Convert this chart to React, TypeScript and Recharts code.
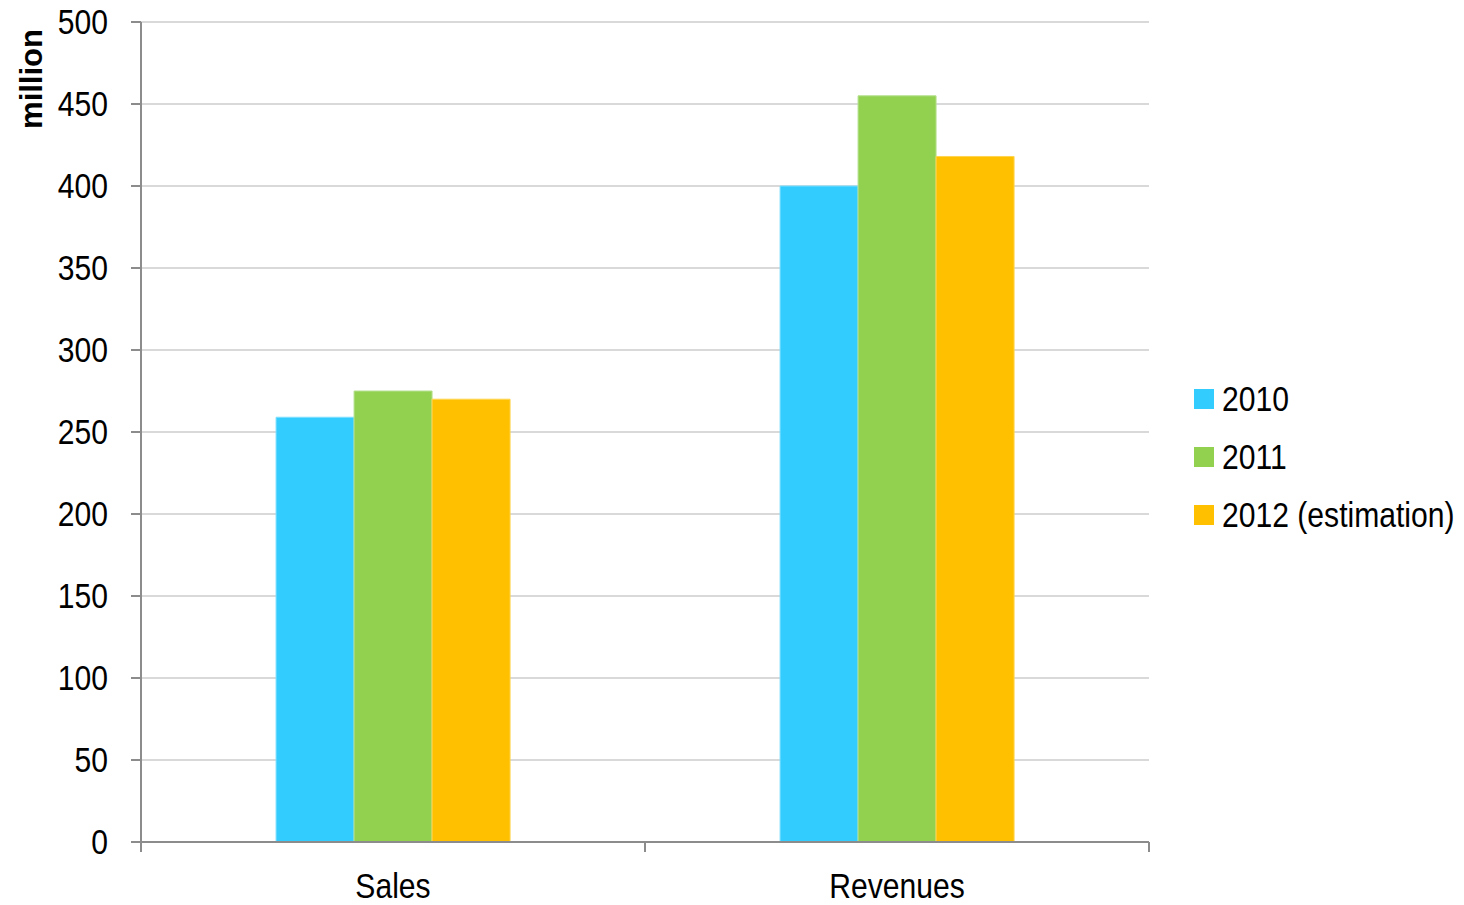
import { Bar, BarChart, CartesianGrid, Legend, XAxis, YAxis } from "recharts"

const categories = ["Sales", "Revenues"]
const series2010 = [259, 400]
const series2011 = [275, 455]
const series2012 = [270, 418]
const yTicks = [0, 50, 100, 150, 200, 250, 300, 350, 400, 450, 500]
const seriesNames = ["2010", "2011", "2012 (estimation)"]
const seriesColors = ["#33CCFF", "#92D050", "#FFC000"]
const boundaryTicks = [0, 1, 2]

const data = categories.map((name, i) => ({
  name,
  pos: i + 0.5,
  y2010: series2010[i],
  y2011: series2011[i],
  y2012: series2012[i],
}))

const FONT = "'Liberation Sans', Arial, sans-serif"
const NARROW = 0.86

function YTick(props: any) {
  const { x, y, payload } = props
  return (
    <text transform={`translate(${x},${y}) scale(${NARROW},1)`} textAnchor="end" dy="0.355em"
      fontFamily={FONT} fontSize={35} fill="#000">
      {payload.value}
    </text>
  )
}

function XTick(props: any) {
  const { x, y, payload } = props
  return (
    <text transform={`translate(${x},${y}) scale(${NARROW},1)`} textAnchor="middle" dy="0.71em"
      fontFamily={FONT} fontSize={35} fill="#000">
      {payload.value}
    </text>
  )
}

function LegendBox() {
  return (
    <div style={{ paddingLeft: 45, paddingTop: 9, fontFamily: FONT }}>
      {seriesNames.map((n, i) => (
        <div key={n} style={{ display: "flex", alignItems: "center", height: 58, whiteSpace: "nowrap" }}>
          <span style={{ width: 20, height: 20, flexShrink: 0, background: seriesColors[i], marginRight: 8, display: "inline-block" }} />
          <span style={{ fontSize: 35, color: "#000", display: "inline-block", transform: `scaleX(${NARROW})`, transformOrigin: "left center" }}>{n}</span>
        </div>
      ))}
    </div>
  )
}

function UnitLabel(props: any) {
  const vb = props.viewBox || {}
  const x = 31
  const y = (vb.y ?? 22) + 57
  return (
    <text x={x} y={y} transform={`rotate(-90, ${x}, ${y})`} textAnchor="middle" dominantBaseline="central"
      fontFamily={FONT} fontWeight="bold" fontSize={31} fill="#000">
      million
    </text>
  )
}

export default function App() {
  return (
    <div style={{ position: "absolute", left: 0, top: 0, width: 1464, height: 905, background: "#fff" }}>
      <BarChart
        width={1464}
        height={905}
        data={data}
        margin={{ top: 22, right: 41, bottom: 0, left: 0 }}
        barCategoryGap="26.8%"
        barGap={0}
      >
        <CartesianGrid vertical={false} stroke="#d9d9d9" strokeWidth={2} />
        <XAxis
          xAxisId={0}
          type="number"
          dataKey="pos"
          domain={[0, 2]}
          ticks={boundaryTicks}
          tickFormatter={() => ""}
          tickSize={10}
          height={1}
          axisLine={{ stroke: "#8c8c8c", strokeWidth: 2 }}
          tickLine={{ stroke: "#8c8c8c", strokeWidth: 2 }}
        />
        <XAxis
          xAxisId="cat"
          dataKey="name"
          height={62}
          axisLine={false}
          tickLine={false}
          tickMargin={24}
          tick={<XTick />}
        />
        <YAxis
          width={141}
          domain={[0, 500]}
          ticks={yTicks}
          tickSize={10}
          tickMargin={23}
          axisLine={{ stroke: "#8c8c8c", strokeWidth: 2 }}
          tickLine={{ stroke: "#8c8c8c", strokeWidth: 2 }}
          tick={<YTick />}
          label={<UnitLabel />}
        />
        <Legend
          layout="vertical"
          align="right"
          verticalAlign="middle"
          wrapperStyle={{ width: 274 }}
          content={() => <LegendBox />}
        />
        <Bar xAxisId="cat" dataKey="y2010" name={seriesNames[0]} fill={seriesColors[0]} stroke="#7fdfff" strokeWidth={1} isAnimationActive={false} />
        <Bar xAxisId="cat" dataKey="y2011" name={seriesNames[1]} fill={seriesColors[1]} stroke="#b6e08f" strokeWidth={1} isAnimationActive={false} />
        <Bar xAxisId="cat" dataKey="y2012" name={seriesNames[2]} fill={seriesColors[2]} stroke="#ffd54f" strokeWidth={1} isAnimationActive={false} />
      </BarChart>
    </div>
  )
}
